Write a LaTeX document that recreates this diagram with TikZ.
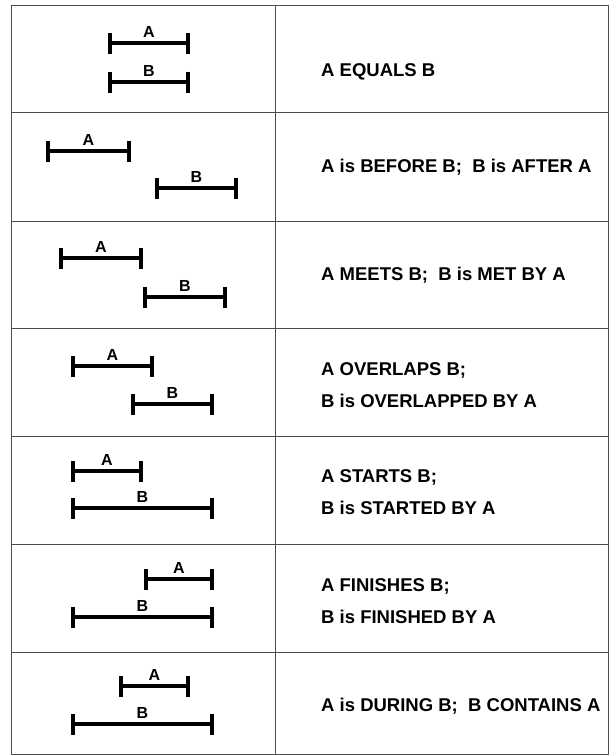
\documentclass[tikz,border=0pt]{standalone}
\usepackage{fontspec}
\setmainfont{Liberation Sans}
\usetikzlibrary{arrows.meta}
\tikzset{
	span/.style={line width=4pt, {Bar[width=21pt]}-{Bar[width=21pt]}},
	lbl/.style={midway, above=4pt, inner sep=0pt, font=\fontsize{16}{16}\selectfont\bfseries},
	desc/.style={anchor=base west, inner sep=0pt, align=left, font=\fontsize{18.5}{32}\selectfont\bfseries},
	rule/.style={draw=black!70, line width=1pt}
}
\begin{document}
\begin{tikzpicture}[x=1pt, y=-1pt, line join=round]
			\useasboundingbox (0,0) rectangle (610,756);
			% table
			\draw[rule] (11,5) rectangle (608,754);
			\draw[rule] (275,5) -- (275,754);
			\foreach \y in {112,221,328,436,544,652} \draw[rule] (11,\y) -- (608,\y);
			% intervals
			\foreach \n/\xa/\xb/\y/\t in {a1/108/190/43/A, b1/108/190/82/B, a2/46/131/151/A, b2/155/238/188/B,
				a3/59/143/258/A, b3/143/227/297/B, a4/71/154/366/A, b4/131/214/404/B,
				a5/71/143/471/A, b5/71/214/508/B, a6/144/214/579/A, b6/71/214/617/B,
				a7/119/190/686/A, b7/71/214/724/B}
			{
				\coordinate (\n s) at (\xa,\y);
				\coordinate (\n e) at (\xb,\y);
				\draw[span] (\n s) -- node[lbl] (\n l) {\t} (\n e);
			}
			% relations (base = last line)
			\node[desc] (r1) at (321,76) {A EQUALS B};
			\node[desc] (r2) at (321,172) {A is BEFORE B;\ \ B is AFTER A};
			\node[desc] (r3) at (321,280) {A MEETS B;\ \ B is MET BY A};
			\node[desc] (r4) at (321,407) {A OVERLAPS B;\\ B is OVERLAPPED BY A};
			\node[desc] (r5) at (321,514) {A STARTS B;\\ B is STARTED BY A};
			\node[desc] (r6) at (321,623) {A FINISHES B;\\ B is FINISHED BY A};
			\node[desc] (r7) at (321,711) {A is DURING B;\ \ B CONTAINS A};
\end{tikzpicture}
\end{document}
